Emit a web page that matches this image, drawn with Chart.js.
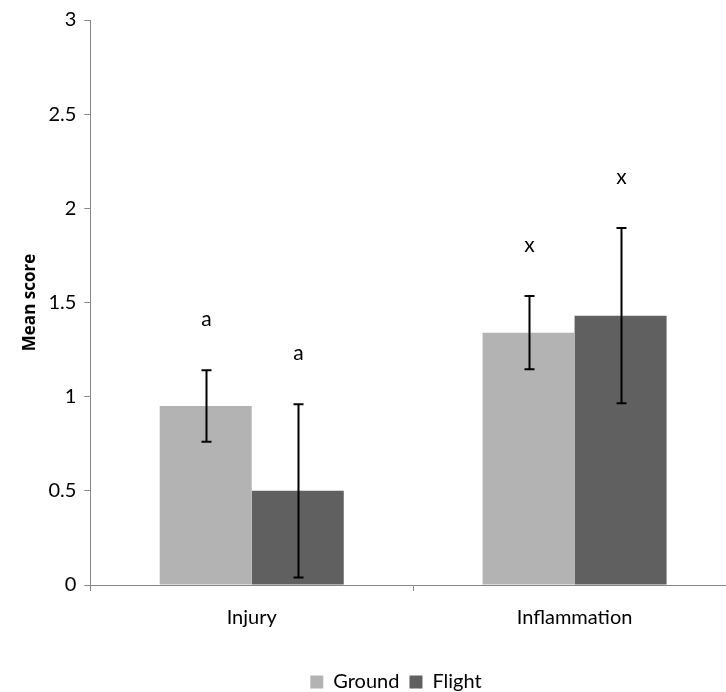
<!DOCTYPE html>
<html>
<head>
<meta charset="utf-8">
<script src="https://cdn.jsdelivr.net/npm/chart.js@4.4.1/dist/chart.umd.min.js"></script>
<style>
  html, body { margin: 0; padding: 0; overflow: hidden; background: #fff; }
  #wrap { width: 792px; height: 692px; }
</style>
</head>
<body>
<div id="wrap"><canvas id="meanScoreChart"></canvas></div>
<script>
var categories = ["Injury", "Inflammation"];
var groundMeans = [0.95, 1.34];
var groundErrors = [0.19, 0.195];
var flightMeans = [0.5, 1.43];
var flightErrors = [0.46, 0.465];
var groundLetters = ["a", "x"];
var flightLetters = ["a", "x"];

var Ground = '#b3b3b3';
var Flight = '#606060';
var AxisGrey = '#868686';
var FONT = 'Lato, "Open Sans", sans-serif';

// error bars plus significance letters above each bar
var errorBarPlugin = {
    id: 'errorBars',
    afterDatasetsDraw: function (chart) {
        var ctx = chart.ctx;
        var yScale = chart.scales.y;
        chart.data.datasets.forEach(function (ds, i) {
            var meta = chart.getDatasetMeta(i);
            meta.data.forEach(function (bar, j) {
                var v = ds.data[j];
                var e = ds.errors[j];
                var yTop = yScale.getPixelForValue(v + e);
                var yBot = yScale.getPixelForValue(v - e);
                var x = Math.round(bar.x) + 0.5;
                ctx.save();
                ctx.strokeStyle = '#000';
                ctx.lineWidth = 2;
                ctx.beginPath();
                ctx.moveTo(x, yTop);
                ctx.lineTo(x, yBot);
                ctx.moveTo(x - 5, yTop);
                ctx.lineTo(x + 5, yTop);
                ctx.moveTo(x - 5, yBot);
                ctx.lineTo(x + 5, yBot);
                ctx.stroke();

                ctx.fillStyle = '#000';
                ctx.font = '21px ' + FONT;
                ctx.textAlign = 'center';
                ctx.textBaseline = 'middle';
                ctx.fillText(ds.letters[j], x, yTop - 51);
                ctx.restore();
            });
        });
    }
};

// nudge the legend to the right so it sits under the middle of the plot
var legendShift = {
    id: 'legendShift',
    afterLayout: function (chart) {
        chart.legend.left += 18;
        chart.legend.right += 18;
    }
};

var ctx1 = document.getElementById("meanScoreChart");

var barChart1 = new Chart(ctx1, {
    type: 'bar',
    plugins: [errorBarPlugin, legendShift],
    data: {
        labels: categories,
        datasets: [
            {
                label: "Ground",
                data: groundMeans,
                errors: groundErrors,
                letters: groundLetters,
                backgroundColor: Ground,
                borderWidth: 0
            },
            {
                label: "Flight",
                data: flightMeans,
                errors: flightErrors,
                letters: flightLetters,
                backgroundColor: Flight,
                borderWidth: 0
            }]
    },
    options: {
        responsive: true,
        maintainAspectRatio: false,
        animation: false,
        categoryPercentage: 0.57,
        barPercentage: 1.0,
        layout: {
            padding: { left: 20, right: 56, top: 10, bottom: -10 }
        },
        plugins: {
            tooltip: { enabled: false },
            legend: {
                position: 'bottom',
                labels: {
                    boxWidth: 13,
                    boxHeight: 13,
                    padding: 10,
                    color: '#000',
                    font: { family: FONT, size: 20 }
                }
            }
        },
        scales: {
            x: {
                grid: {
                    offset: true,
                    drawOnChartArea: false,
                    color: AxisGrey,
                    tickLength: 6
                },
                border: { color: AxisGrey, width: 1 },
                ticks: {
                    color: '#000',
                    padding: 15,
                    font: { family: FONT, size: 20 }
                },
                // extra room between category labels and the legend
                afterFit: function (scale) { scale.height += 17; }
            },
            y: {
                min: 0,
                max: 3,
                grid: {
                    drawOnChartArea: false,
                    color: AxisGrey,
                    tickLength: 6
                },
                border: { color: AxisGrey, width: 1 },
                ticks: {
                    stepSize: 0.5,
                    color: '#000',
                    padding: 8,
                    font: { family: FONT, size: 20 },
                    callback: function (value) { return String(value); }
                },
                title: {
                    display: true,
                    text: 'Mean score',
                    color: '#000',
                    padding: { top: 0, bottom: 0 },
                    font: { family: '"Open Sans", sans-serif', size: 17, weight: 'bold' }
                }
            }
        }
    }
});
</script>
</body>
</html>
